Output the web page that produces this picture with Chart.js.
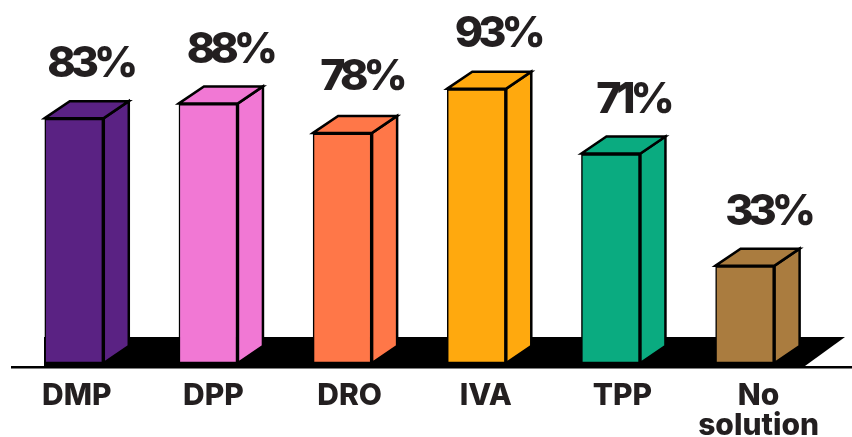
<!DOCTYPE html>
<html>
<head>
<meta charset="utf-8">
<style>
  html, body { margin: 0; padding: 0; background: #fff; }
  canvas { display: block; }
</style>
<script src="https://cdn.jsdelivr.net/npm/chart.js@4"></script>
</head>
<body>
<canvas id="grafico" width="852" height="437"></canvas>
<script>
const categories = ['DMP', 'DPP', 'DRO', 'IVA', 'TPP', ['No', 'solution']];
const values = [83, 88, 78, 93, 71, 33];
const colors = ['#5a2283', '#f178d4', '#ff7748', '#ffa90e', '#0aab80', '#aa7c3f'];

// the labels in the picture sit a little off the bar centres
const valueShift = [16, 21.5, 19, 21, 22, 23];
const valueLift = [41, 40, 43, 42, 41, 41];
const tickShift = [2.5, 5, 7, 9, 11.5, 13.5];

const depthX = 25;
const depthY = 17;
const textColor = '#231f20';

// floor shadow and axis line, under the bars
const floorPlugin = {
  id: 'floor',
  beforeDatasetsDraw(chart) {
    const c = chart.ctx;
    const base = chart.scales.y.getPixelForValue(0);
    c.save();
    c.fillStyle = '#000';
    c.beginPath();
    c.moveTo(44, base - 26);
    c.lineTo(845, base - 26);
    c.lineTo(805, base + 3);
    c.lineTo(44, base + 3);
    c.closePath();
    c.fill();
    c.fillRect(11, base + 3, 841, 2.5);
    c.restore();
  }
};

// side and top faces of each box, then the value above it
const boxPlugin = {
  id: 'box',
  afterDatasetsDraw(chart) {
    const c = chart.ctx;
    const bars = chart.getDatasetMeta(0).data;
    c.save();
    c.lineWidth = 2.5;
    c.strokeStyle = '#000';
    c.lineJoin = 'miter';
    bars.forEach((bar, i) => {
      const l = bar.x - bar.width / 2;
      const r = bar.x + bar.width / 2;
      const t = bar.y;
      const b = bar.base;
      c.fillStyle = colors[i];

      c.beginPath();
      c.moveTo(r, t);
      c.lineTo(r + depthX, t - depthY);
      c.lineTo(r + depthX, b - depthY);
      c.lineTo(r, b);
      c.closePath();
      c.fill();
      c.stroke();

      c.beginPath();
      c.moveTo(l, t);
      c.lineTo(l + depthX, t - depthY);
      c.lineTo(r + depthX, t - depthY);
      c.lineTo(r, t);
      c.closePath();
      c.fill();
      c.stroke();

      c.font = '800 43px Inter';
      c.letterSpacing = '-5px';
      c.fillStyle = textColor;
      c.textAlign = 'center';
      c.textBaseline = 'alphabetic';
      c.fillText(values[i] + '%', bar.x + valueShift[i], t - valueLift[i]);
    });
    c.restore();
  }
};

new Chart(document.getElementById('grafico'), {
  type: 'bar',
  data: {
    labels: categories,
    datasets: [{
      data: values,
      backgroundColor: colors,
      borderColor: '#000',
      borderWidth: { left: 1.5, top: 2.5, right: 2.5, bottom: 1.5 },
      borderSkipped: false,
      barThickness: 59
    }]
  },
  options: {
    responsive: false,
    animation: false,
    layout: { padding: { left: 7.2, right: 39.8, top: 68, bottom: 0 } },
    plugins: { legend: { display: false }, tooltip: { enabled: false } },
    scales: {
      x: {
        grid: { display: false },
        border: { display: false },
        afterFit(scale) {
          scale.height = 74;
          scale.getPixelForTick = i =>
            Object.getPrototypeOf(scale).getPixelForTick.call(scale, i) + tickShift[i];
        },
        ticks: {
          padding: 10,
          maxRotation: 0,
          autoSkip: false,
          color: textColor,
          font: { family: 'Inter', size: 30, weight: '800', lineHeight: 1 }
        }
      },
      y: {
        display: false,
        min: 0,
        max: 100
      }
    }
  },
  plugins: [floorPlugin, boxPlugin]
});
</script>
</body>
</html>
